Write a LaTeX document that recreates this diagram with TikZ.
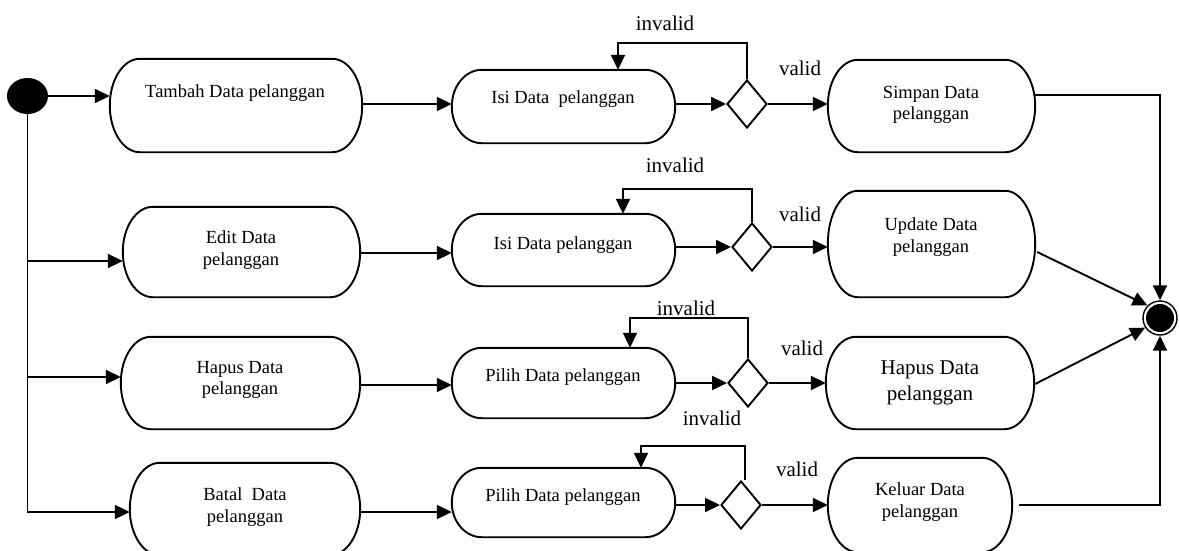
\documentclass[tikz,border=0pt]{standalone}
\usepackage{fontspec}
\setmainfont{Liberation Serif}
\usetikzlibrary{arrows.meta,shapes.geometric,calc}
\tikzset{
  ln/.style={line width=1.9pt},
  arr/.style={line width=1.9pt,-{Triangle[length=15pt,width=14pt]}},
  actbox/.style={shape=rectangle,inner sep=0pt,draw=none},
  dec/.style={shape=diamond,draw,line width=1.9pt,minimum width=40pt,minimum height=48pt,inner sep=0pt},
  boxtxt/.style={font=\fontsize{18.5}{21.5}\selectfont,align=center,inner sep=0pt},
  bigtxt/.style={font=\fontsize{21}{26}\selectfont,align=center,inner sep=0pt},
  lbl/.style={font=\fontsize{21}{25}\selectfont,inner sep=0pt},
}
\newcommand\stadium[1]{%
  \draw[ln] let \p1=(#1.north west), \p2=(#1.south east), \n1={(\y1-\y2)/2} in
    (\x1+30pt,\y1) -- (\x2-30pt,\y1)
    arc[start angle=90,end angle=-90,x radius=30pt,y radius=\n1]
    -- (\x1+30pt,\y2)
    arc[start angle=270,end angle=90,x radius=30pt,y radius=\n1] -- cycle;}
\begin{document}
\begin{tikzpicture}[x=1pt,y=-1pt]
\useasboundingbox (0,0) rectangle (1179,550);
\clip (0,0) rectangle (1179,550);

% initial and final nodes
\node[ellipse,fill=black,minimum width=41pt,minimum height=36pt,inner sep=0pt] (init) at (27.5,96) {};
\node[circle,draw,line width=1.4pt,minimum size=34pt,inner sep=0pt] (fin) at (1160,318) {};
\fill (fin.center) circle[radius=14pt];

% activity boxes
\node[actbox,minimum width=252pt,minimum height=93pt] (tambah) at (236,105.5) {};
\node[actbox,minimum width=223pt,minimum height=73pt] (isi1) at (563.5,106.5) {};
\node[actbox,minimum width=207pt,minimum height=92pt] (simpan) at (931.5,106) {};
\node[actbox,minimum width=237pt,minimum height=90pt] (edit) at (241.5,252) {};
\node[actbox,minimum width=223pt,minimum height=72pt] (isi2) at (563.5,250) {};
\node[actbox,minimum width=207pt,minimum height=106pt] (update) at (931.5,244) {};
\node[actbox,minimum width=239pt,minimum height=92pt] (hapusL) at (240.5,383) {};
\node[actbox,minimum width=223pt,minimum height=70pt] (pilih1) at (563.5,383) {};
\node[actbox,minimum width=208pt,minimum height=92pt] (hapusR) at (930,383) {};
\node[actbox,minimum width=230pt,minimum height=92pt] (batal) at (245,509) {};
\node[actbox,minimum width=223pt,minimum height=69pt] (pilih2) at (563.5,502.5) {};
\node[actbox,minimum width=184pt,minimum height=94pt] (keluar) at (920,505) {};
\foreach \bx in {tambah,isi1,simpan,edit,isi2,update,hapusL,pilih1,hapusR,batal,pilih2,keluar}{\stadium{\bx}}

% box texts
\node[boxtxt] (tambah-t) at (235,93) {Tambah Data pelanggan};
\node[boxtxt] (isi1-t) at (563,99) {Isi Data\ \ pelanggan};
\node[boxtxt] (simpan-t) at (931,105) {Simpan Data\\pelanggan};
\node[boxtxt] (edit-t) at (241,250) {Edit Data\\pelanggan};
\node[boxtxt] (isi2-t) at (563,245) {Isi Data pelanggan};
\node[boxtxt] (update-t) at (931,237) {Update Data\\pelanggan};
\node[boxtxt] (hapusL-t) at (240,380) {Hapus Data\\pelanggan};
\node[boxtxt] (pilih1-t) at (563,377) {Pilih Data pelanggan};
\node[bigtxt] (hapusR-t) at (930,383) {Hapus Data\\pelanggan};
\node[boxtxt] (batal-t) at (245,507) {Batal\ \ Data\\pelanggan};
\node[boxtxt] (pilih2-t) at (563,497) {Pilih Data pelanggan};
\node[boxtxt] (keluar-t) at (920,502) {Keluar Data\\pelanggan};

% decisions
\node[dec] (d1) at (747,104) {};
\node[dec] (d2) at (752,247) {};
\node[dec] (d3) at (748,383) {};
\node[dec] (d4) at (741,505) {};

% guard labels
\node[lbl] (inv1) at (665,23) {invalid};
\node[lbl] (val1) at (800,68) {valid};
\node[lbl] (inv2) at (675,165) {invalid};
\node[lbl] (val2) at (800,214) {valid};
\node[lbl] (inv3) at (686,308) {invalid};
\node[lbl] (val3) at (802,348) {valid};
\node[lbl] (inv4) at (712,418) {invalid};
\node[lbl] (val4) at (797,469) {valid};

% start branches
\coordinate (e2) at ($(edit.west)+(0,9)$);
\coordinate (e3) at ($(hapusL.west)+(0,-6)$);
\coordinate (e4) at ($(batal.west)+(0,3)$);
\draw[arr] (init.east) -- (init.east -| tambah.west);
\draw[arr] (init.south) |- (e4);
\draw[arr] (init.south |- e2) -- (e2);
\draw[arr] (init.south |- e3) -- (e3);

% row 1
\draw[arr] (tambah.east |- d1) -- (isi1.west |- d1);
\draw[arr] (isi1.east |- d1) -- (d1.west);
\draw[arr] (d1.east) -- (d1.east -| simpan.west);
% row 2
\coordinate (r2) at ($(edit.east)+(0,1)$);
\draw[arr] (r2) -- (r2 -| isi2.west);
\draw[arr] (isi2.east |- d2) -- (d2.west);
\draw[arr] (d2.east) -- (d2.east -| update.west);
% row 3
\coordinate (r3) at ($(hapusL.east)+(0,2)$);
\draw[arr] (r3) -- (r3 -| pilih1.west);
\draw[arr] (pilih1.east |- d3) -- (d3.west);
\draw[arr] (d3.east) -- (d3.east -| hapusR.west);
% row 4
\coordinate (r4) at ($(batal.east)+(0,3)$);
\draw[arr] (r4) -- (r4 -| pilih2.west);
\draw[arr] (pilih2.east |- d4) -- (d4.west);
\draw[arr] (d4.east) -- (d4.east -| keluar.west);

% invalid loops
\coordinate (l1) at (618,43);
\coordinate (l2) at (623,189);
\coordinate (l3) at (630,318);
\coordinate (l4) at (641,446);
\draw[arr] (d1.north) |- (l1) -- (l1 |- isi1.north);
\draw[arr] (d2.north) |- (l2) -- (l2 |- isi2.north);
\draw[arr] (d3.north) |- (l3) -- (l3 |- pilih1.north);
\draw[arr] ([xshift=4pt]d4.north) |- (l4) -- (l4 |- pilih2.north);

% to final node
\coordinate (s1) at ($(simpan.east)+(0,-11)$);
\coordinate (u1) at ($(update.east)+(2,8)$);
\coordinate (h1) at ($(hapusR.east)+(1,1)$);
\draw[arr] (s1) -| (fin.north);
\draw[arr] (u1) -- (fin.135);
\draw[arr] (h1) -- (fin.213);
\draw[arr] ([xshift=7pt]keluar.east) -| (fin.south);
\end{tikzpicture}
\end{document}
